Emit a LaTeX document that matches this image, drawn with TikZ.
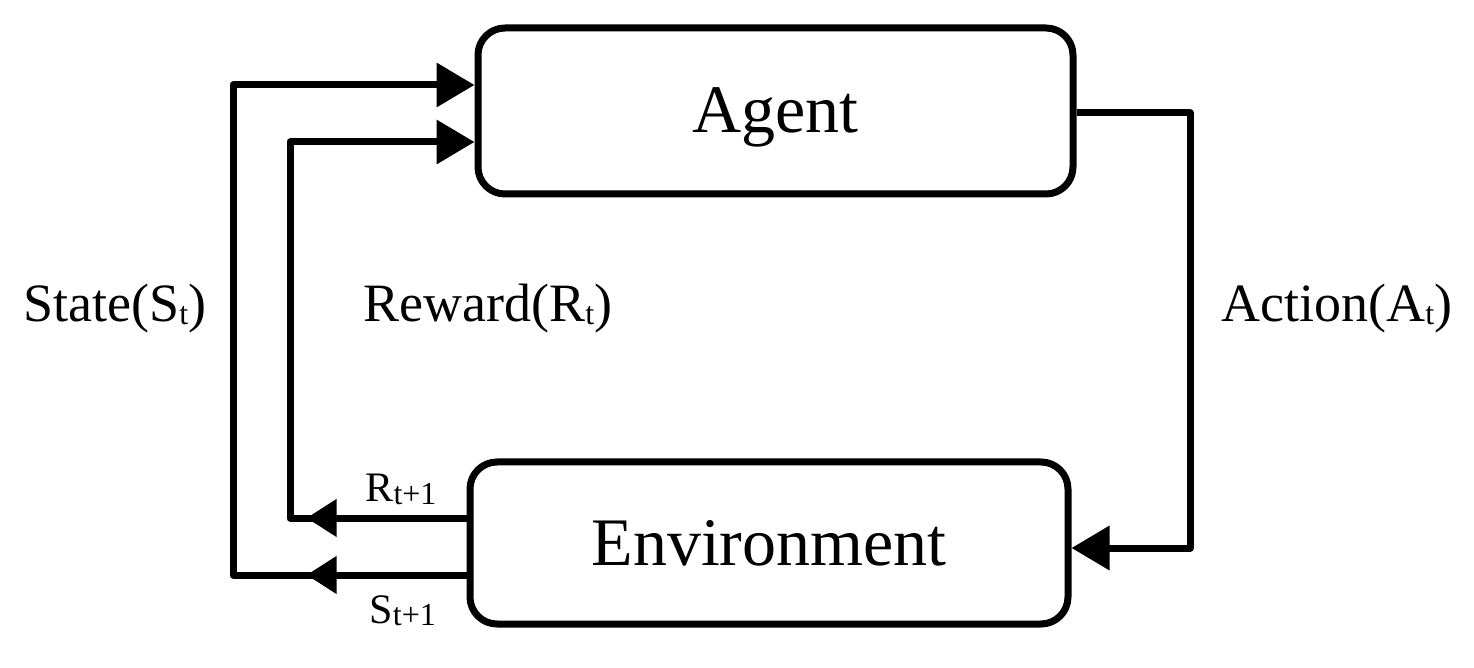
\documentclass[tikz,border=0pt]{standalone}
\usepackage{fontspec}
\setmainfont{Liberation Serif}
\usetikzlibrary{arrows.meta,decorations.markings}
\newcommand\lowsub[2]{\raisebox{-0.12ex}{\fontsize{#1}{#1}\selectfont #2}}
\begin{document}
\begin{tikzpicture}[x=0.5pt,y=-0.5pt, line width=3.5pt, line join=round,
  box/.style={draw, rounded corners=13.5pt, inner sep=0pt, text height=22pt, text depth=0pt, font=\fontsize{34}{34}\selectfont},
  arrowtip/.style={-{Triangle[length=19pt,width=21.5pt]}},
  midtip/.style={postaction=decorate, decoration={markings, mark=at position #1 with {\arrow{Triangle[length=15pt,width=18pt]}}}},
  lblbig/.style={font=\fontsize{27}{27}\selectfont, inner sep=0pt, anchor=base west},
  lblsmall/.style={font=\fontsize{21}{21}\selectfont, inner sep=0pt, anchor=base west}]
\useasboundingbox (0,0) rectangle (1474,668);
\node[box, minimum width=297.5pt, minimum height=83pt] (agent) at (775.5,111) {Agent};
\node[box, minimum width=299pt, minimum height=81pt] (env) at (769,543) {Environment};
% corners
\coordinate (sb) at (233,575);
\coordinate (st) at (233,85);
\coordinate (rb) at (290,518);
\coordinate (rt) at (290,142);
\coordinate (ar) at (1190,113);
\coordinate (ab) at (1190,548);
% connectors
\draw[arrowtip, midtip=80pt] (env.west|-sb) -- (sb) -- (st) -- (agent.west|-st);
\draw[arrowtip, midtip=80pt] (env.west|-rb) -- (rb) -- (rt) -- (agent.west|-rt);
\draw[arrowtip] (agent.east|-ar) -- (ar) -- (ab) -- (env.east|-ab);
% labels
\node[lblbig] (lstate) at (20,322) {State(S\lowsub{16}{t})};
\node[lblbig] (lreward) at (360,322) {Reward(R\lowsub{16}{t})};
\node[lblbig] (laction) at (1218,322) {Action(A\lowsub{16}{t})};
\node[lblsmall] (lr) at (362,502) {R\lowsub{16}{t+1}};
\node[lblsmall] (ls) at (366,623) {S\lowsub{16}{t+1}};
\end{tikzpicture}
\end{document}
